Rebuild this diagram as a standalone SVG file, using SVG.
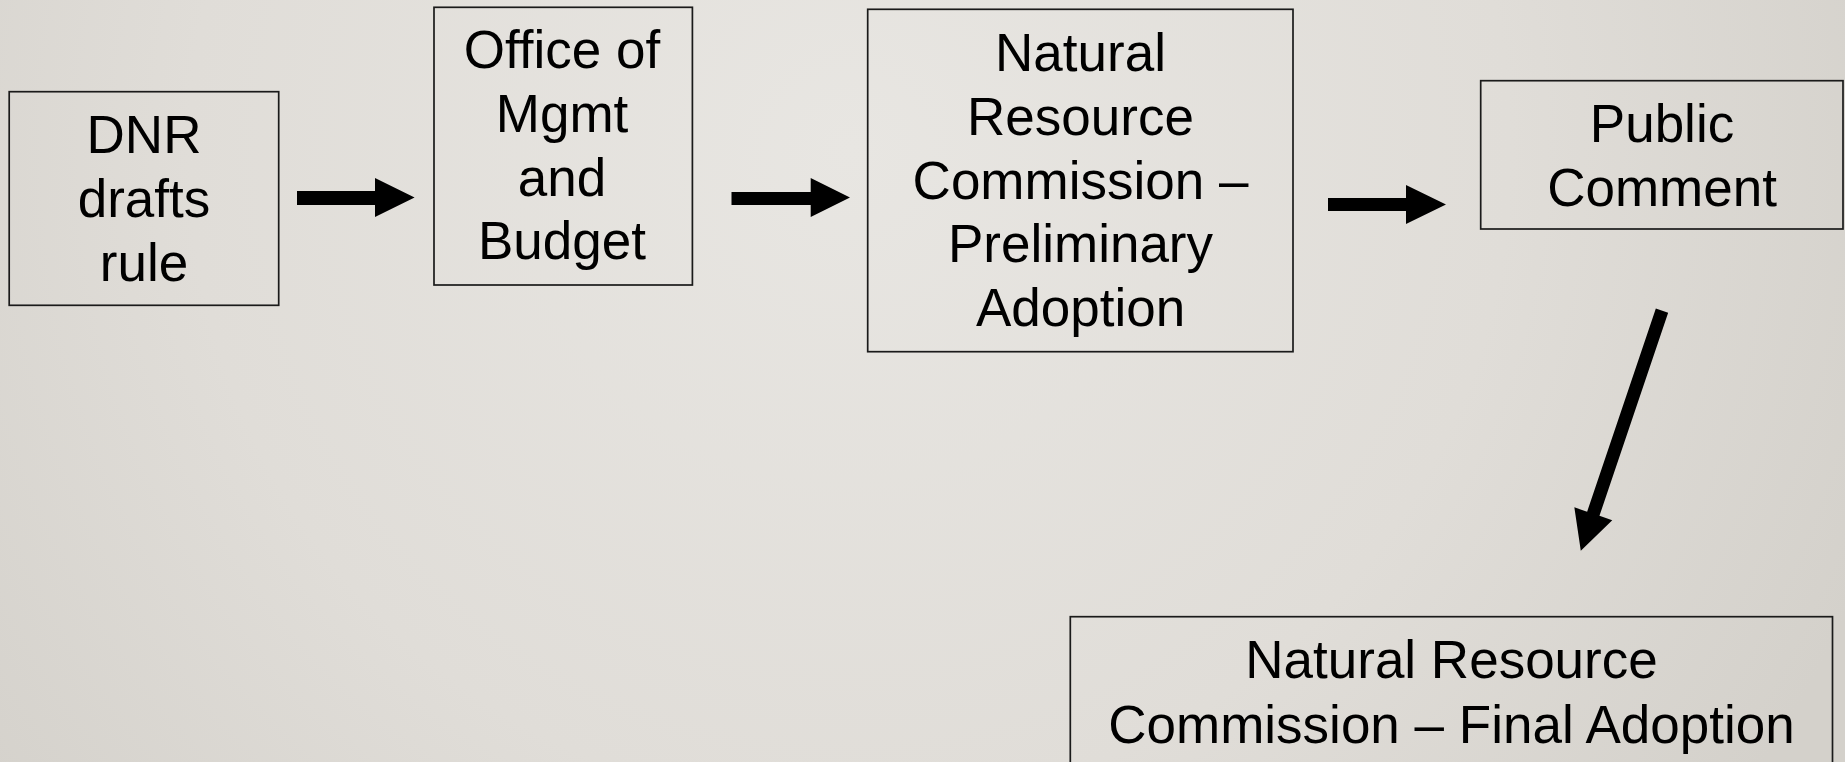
<svg xmlns="http://www.w3.org/2000/svg" width="1845" height="762" viewBox="0 0 1845 762">
<defs>
<radialGradient id="bg" cx="850" cy="150" r="1100" gradientUnits="userSpaceOnUse">
<stop offset="0" stop-color="#e8e6e2"/>
<stop offset="0.6" stop-color="#e0ddd8"/>
<stop offset="1" stop-color="#d4d1cb"/>
</radialGradient>
</defs>
<style>
.box{fill:none;stroke:#1a1a1a;stroke-width:1.7}
.t{font-family:"Liberation Sans",Arial,sans-serif;font-size:53px;fill:#000;text-anchor:middle}
.arr{fill:#000}
</style>
<rect x="0" y="0" width="1845" height="762" fill="url(#bg)"/>
<g id="dnr">
<rect class="box" x="9.2" y="91.7" width="269.5" height="213.6"/>
<text class="t" x="144" y="153">DNR</text>
<text class="t" x="144" y="217">drafts</text>
<text class="t" x="144" y="281">rule</text>
</g>
<g id="omb">
<rect class="box" x="434" y="7.3" width="258.4" height="277.7"/>
<text class="t" x="562" y="68">Office of</text>
<text class="t" x="562" y="132">Mgmt</text>
<text class="t" x="562" y="196">and</text>
<text class="t" x="562" y="259">Budget</text>
</g>
<g id="nrc-prelim">
<rect class="box" x="867.7" y="9.3" width="425.3" height="342.4"/>
<text class="t" x="1080.5" y="71">Natural</text>
<text class="t" x="1080.5" y="135">Resource</text>
<text class="t" x="1080.5" y="199">Commission –</text>
<text class="t" x="1080.5" y="262">Preliminary</text>
<text class="t" x="1080.5" y="326">Adoption</text>
</g>
<g id="public">
<rect class="box" x="1480.7" y="80.7" width="362.3" height="148.3"/>
<text class="t" x="1662" y="141.7">Public</text>
<text class="t" x="1662" y="205.7">Comment</text>
</g>
<g id="nrc-final">
<rect class="box" x="1070.3" y="616.7" width="762.2" height="160"/>
<text class="t" x="1451.5" y="678.3">Natural Resource</text>
<text class="t" x="1451.5" y="742.7">Commission – Final Adoption</text>
</g>
<g id="connectors">
<polygon class="arr" points="297,191 375,191 375,178 414.6,197.5 375,217 375,205 297,205"/>
<polygon class="arr" points="731.5,192 810.7,192 810.7,178 850,197.5 810.7,217 810.7,205 731.5,205"/>
<polygon class="arr" points="1328,198 1406,198 1406,185 1446,204.5 1406,224 1406,211 1328,211"/>
<polygon class="arr" points="1655.84,308.62 1668.16,312.78 1599.46,515.83 1612.25,520.14 1580.8,550.7 1574.35,507.36 1587.14,511.67"/>
</g>
</svg>
